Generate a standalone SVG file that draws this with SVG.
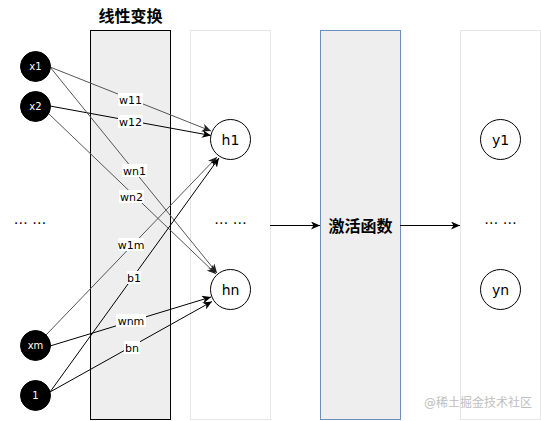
<svg xmlns="http://www.w3.org/2000/svg" width="541" height="421" viewBox="0 0 541 421">
<defs>
<marker id="arr" markerUnits="userSpaceOnUse" markerWidth="10" markerHeight="8" refX="9" refY="4" orient="auto">
<path d="M0,0 L9,4 L0,8 L2.5,4 z" fill="#000"/>
</marker>
<marker id="arrg" markerUnits="userSpaceOnUse" markerWidth="10" markerHeight="8" refX="9" refY="4" orient="auto">
<path d="M0,0 L9,4 L0,8 L2.5,4 z" fill="#222"/>
</marker>
</defs>
<style>
text{font-family:"DejaVu Sans","Noto Sans CJK SC",sans-serif}
.in circle{fill:#000;stroke:#000}
.in text{fill:#fff;font-size:10px;text-anchor:middle}
.nd circle{fill:#fff;stroke:#000;stroke-width:1}
.nd text{fill:#000;font-size:14px;text-anchor:middle}
.e{fill:none;stroke:#000;stroke-width:1;marker-end:url(#arr)}
.g{stroke:#555;marker-end:url(#arrg)}
.lb rect{fill:#fff}
.lb text{font-size:11px;text-anchor:middle;fill:#000}
.ttl{font-size:16px;font-weight:bold;text-anchor:middle;font-family:"Noto Sans CJK SC",sans-serif}
.dots{font-size:14px;text-anchor:middle}
</style>
<rect width="541" height="421" fill="#fff"/>
<g id="linear-box">
<rect x="90.5" y="30.5" width="80" height="389" fill="#eeeeee" stroke="#000"/>
<text class="ttl" x="130.5" y="22">线性变换</text>
</g>
<g id="hidden-box"><rect x="190.5" y="30.5" width="80" height="389" fill="#fff" stroke="#e6e6e6"/></g>
<g id="activation"><rect x="320.5" y="30.5" width="80" height="389" fill="#eeeeee" stroke="#6c8ebf"/>
<text class="ttl" x="360.5" y="232">激活函数</text></g>
<g id="output-box"><rect x="460.5" y="30.5" width="80" height="389" fill="#fff" stroke="#e6e6e6"/></g>
<g id="connectors">
<line class="e g" x1="50" y1="67" x2="211" y2="131"/>
<line class="e" x1="50" y1="106" x2="211" y2="135.5"/>
<line class="e g" x1="50" y1="67" x2="217" y2="273"/>
<line class="e g" x1="49" y1="114" x2="216" y2="274"/>
<line class="e g" x1="46" y1="335" x2="217" y2="157"/>
<line class="e" x1="50" y1="392" x2="219" y2="158"/>
<line class="e" x1="50" y1="346" x2="211" y2="297"/>
<line class="e" x1="50" y1="392" x2="212" y2="301.5"/>
<line class="e" x1="270" y1="225.5" x2="320" y2="225.5"/>
<line class="e" x1="400" y1="225.5" x2="460" y2="225.5"/>
<g class="lb">
<rect x="118" y="93" width="25" height="13"/><text x="130.5" y="103.5">w11</text>
<rect x="118" y="115" width="25" height="13"/><text x="130.5" y="125.5">w12</text>
<rect x="122" y="164" width="25" height="13"/><text x="134.5" y="174.5">wn1</text>
<rect x="119" y="190" width="25" height="13"/><text x="131.5" y="200.5">wn2</text>
<rect x="118" y="238" width="26" height="13"/><text x="131" y="248.5">w1m</text>
<rect x="127" y="271" width="14" height="13"/><text x="134" y="281.5">b1</text>
<rect x="116" y="314" width="30" height="13"/><text x="131" y="324.5">wnm</text>
<rect x="124" y="341" width="16" height="13"/><text x="132" y="351.5">bn</text>
</g>
</g>
<g id="x1" class="in"><circle cx="35.5" cy="66.5" r="15"/><text x="35.5" y="70">x1</text></g>
<g id="x2" class="in"><circle cx="35.5" cy="106.5" r="15"/><text x="35.5" y="110">x2</text></g>
<g id="xm" class="in"><circle cx="35.5" cy="345.5" r="15"/><text x="35.5" y="349">xm</text></g>
<g id="one" class="in"><circle cx="35.5" cy="395.5" r="15"/><text x="35.5" y="399">1</text></g>
<g id="h1" class="nd"><circle cx="230.5" cy="139.5" r="20"/><text x="230.5" y="144.5">h1</text></g>
<g id="hn" class="nd"><circle cx="230.5" cy="289.5" r="20"/><text x="230.5" y="294.5">hn</text></g>
<g id="y1" class="nd"><circle cx="500.5" cy="139.5" r="20"/><text x="500.5" y="144.5">y1</text></g>
<g id="yn" class="nd"><circle cx="500.5" cy="289.5" r="20"/><text x="500.5" y="294.5">yn</text></g>
<text class="dots" x="30" y="224">… …</text>
<text class="dots" x="230.5" y="224">… …</text>
<text class="dots" x="500.5" y="224">… …</text>
<text x="478" y="407" font-size="12" fill="#c0c0c0" text-anchor="middle" font-family="Noto Sans CJK SC, sans-serif">@稀土掘金技术社区</text>
</svg>
